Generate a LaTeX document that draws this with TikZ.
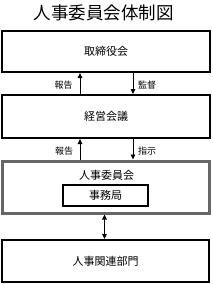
\documentclass[tikz,border=0pt]{standalone}
\usepackage{fontspec}
\setmainfont{Noto Sans CJK JP}
\usetikzlibrary{arrows.meta}
\begin{document}
\begin{tikzpicture}[x=1pt,y=-1pt,
  box/.style={draw=black,line width=2pt,inner sep=0pt,font=\fontsize{11}{13}\selectfont},
  arr/.style={line width=0.9pt,-{Triangle[length=5pt,width=4.5pt]}},
  darr/.style={line width=0.9pt,{Triangle[length=5pt,width=4.5pt]}-{Triangle[length=5pt,width=4.5pt]}},
  lbl/.style={font=\fontsize{9}{10}\selectfont,inner sep=0pt}]
\useasboundingbox (0,0) rectangle (212,284);
\node[font=\fontsize{17.5}{19}\selectfont] (title) at (104,12.5) {人事委員会体制図};
\node[box,minimum width=208pt,minimum height=41pt] (b1) at (106,51.5) {取締役会};
\node[box,minimum width=208pt,minimum height=43pt] (b2) at (106,116.5) {経営会議};
\node[draw=black!60,line width=3pt,inner sep=0pt,minimum width=207pt,minimum height=52pt] (b3) at (106,187) {};
\node[font=\fontsize{11}{13}\selectfont] (b3t) at (106.5,175) {人事委員会};
\node[box,minimum width=85pt,minimum height=21pt] (jm) at (105.5,195.5) {事務局};
\node[box,minimum width=207pt,minimum height=42pt] (b4) at (105.5,261) {人事関連部門};
\coordinate (xl) at (80,0);
\coordinate (xr) at (133,0);
\coordinate (xm) at (104.5,0);
\draw[arr] (b2.north -| xl) -- (b1.south -| xl);
\draw[arr] (b1.south -| xr) -- (b2.north -| xr);
\draw[arr] (b3.north -| xl) -- (b2.south -| xl);
\draw[arr] (b2.south -| xr) -- (b3.north -| xr);
\draw[darr] (b3.south -| xm) -- (b4.north -| xm);
\node[lbl] (l1) at (63.5,85) {報告};
\node[lbl] (l2) at (147,85) {監督};
\node[lbl] (l3) at (64,151) {報告};
\node[lbl] (l4) at (147,151) {指示};
\end{tikzpicture}
\end{document}
